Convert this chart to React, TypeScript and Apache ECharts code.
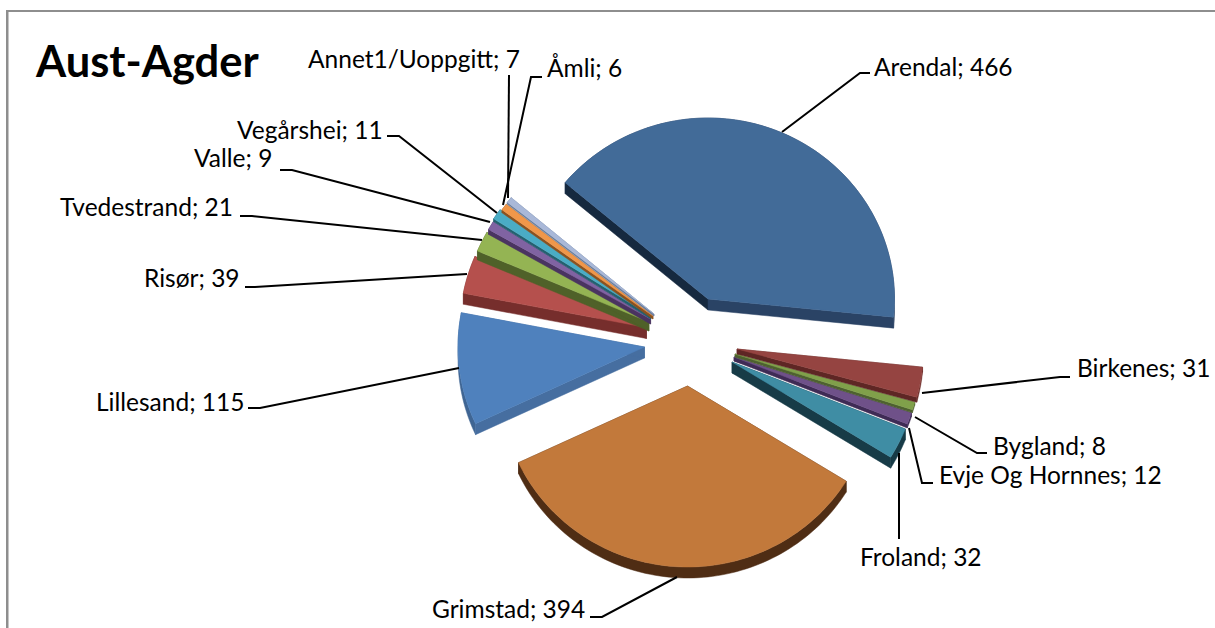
import React, { useEffect, useRef } from "react";
import * as echarts from "echarts";

const categories = ["Arendal", "Birkenes", "Bygland", "Evje Og Hornnes", "Froland", "Grimstad", "Lillesand", "Risør", "Tvedestrand", "Valle", "Vegårshei", "Annet1/Uoppgitt", "Åmli"];
const values = [466, 31, 8, 12, 32, 394, 115, 39, 21, 9, 11, 7, 6];
const chartTitle = "Aust-Agder";

// Layout of the exploded slices (centre of each slice after explosion)
const apexX = [708, 737, 735, 734, 732, 687.5, 644.5, 646.5, 649, 650.6, 651, 653, 654];
const apexY = [299, 349, 354, 357, 362, 386, 347, 327.5, 322, 319, 316, 316, 314];
const drawOrder = [4, 3, 2, 1, 5, 6, 7, 8, 9, 10, 11, 12, 0];
const firstAngle = -50;
const radiusX = 186.5;
const radiusY = 181;
const depths = [11, 5, 3, 4, 11, 11, 11, 11, 9, 5, 3, 3, 2];

const topColors = ["#426B98", "#954441", "#80A04A", "#6F5189", "#3F8DA4", "#C2793B", "#4F81BD", "#B5504D", "#94B453", "#8063A2", "#4AACC5", "#F0974A", "#A9B8D8"];
const startSide = ["#16293F", "#5E2624", "#4E6130", "#3F2B55", "#173B47", "#4F2D14", "#466EA0", "#762E2C", "#4F6129", "#4A3461", "#24606F", "#8B5220", "#6C7F9C"];
const endSide = ["#2A4365", "#5E2624", "#4E6130", "#3F2B55", "#173B47", "#4F2D14", "#466EA0", "#762E2C", "#4F6129", "#4A3461", "#24606F", "#8B5220", "#6C7F9C"];
const arcSide = ["#2A4365", "#6E2E2B", "#4E6130", "#3F2B55", "#173B47", "#4F2D14", "#3F6593", "#762E2C", "#4F6129", "#4A3461", "#24606F", "#8B5220", "#6C7F9C"];

// Label anchors: left x, middle y
const labelX = [874, 1077, 993, 939, 860, 432, 96, 144, 60, 194, 237, 308, 547];
const labelY = [66, 367, 445, 474, 556, 608, 401, 277, 206, 157, 129, 58, 67];
// Leader lines
const leaders: number[][][] = [
  [[782, 132], [860, 73], [870, 73]],
  [[922, 393], [1060, 377], [1070, 377]],
  [[915, 417], [977, 453], [987, 453]],
  [[909, 428], [922, 483], [933, 483]],
  [[899, 453], [899, 539]],
  [[677, 577], [602, 617], [590, 617]],
  [[459, 368], [260, 408], [248, 408]],
  [[467, 274], [255, 287], [245, 287]],
  [[482, 240], [252, 216], [240, 216]],
  [[490, 222], [292, 170], [280, 170]],
  [[497, 213], [399, 136], [387, 136]],
  [[508, 198], [509, 75]],
  [[503, 205], [531, 77], [542, 77]],
];

const total = values.reduce((a, b) => a + b, 0);
const startAngles: number[] = [];
values.reduce((acc, v, i) => {
  startAngles[i] = acc;
  return acc + (v / total) * 360;
}, firstAngle);

function point(i: number, deg: number, dy = 0): number[] {
  const r = (deg * Math.PI) / 180;
  return [apexX[i] + radiusX * Math.sin(r), apexY[i] - radiusY * Math.cos(r) + dy];
}

function arcPoints(i: number, dy = 0): number[][] {
  const a0 = startAngles[i];
  const sweep = (values[i] / total) * 360;
  const n = Math.max(2, Math.ceil(sweep / 1.5));
  const pts: number[][] = [];
  for (let k = 0; k <= n; k++) pts.push(point(i, a0 + (sweep * k) / n, dy));
  return pts;
}

function poly(points: number[][], fill: string) {
  return { type: "polygon", shape: { points }, style: { fill, stroke: fill, lineWidth: 0.5 } };
}

function renderSlice(_params: any, api: any) {
  const i = api.value(0) as number;
  const depth = depths[i];
  const arc = arcPoints(i);
  const low = arcPoints(i, depth);
  const c = [apexX[i], apexY[i]];
  const cLow = [apexX[i], apexY[i] + depth];
  const first = arc[0];
  const last = arc[arc.length - 1];
  return {
    type: "group",
    children: [
      poly([...arc, ...low.slice().reverse()], arcSide[i]),
      poly([c, first, low[0], cLow], startSide[i]),
      poly([c, last, low[low.length - 1], cLow], endSide[i]),
      poly([c, ...arc], topColors[i]),
    ],
  };
}

function renderLabel(_params: any, api: any) {
  const i = api.value(0) as number;
  return {
    type: "group",
    children: [
      {
        type: "polyline",
        shape: { points: leaders[i] },
        style: { stroke: "#000000", lineWidth: 2, fill: "none" },
      },
      {
        type: "text",
        style: {
          x: labelX[i],
          y: labelY[i],
          text: `${categories[i]}; ${values[i]}`,
          fill: "#000000",
          fontFamily: "Lato",
          fontSize: 24.5,
          textAlign: "left",
          textVerticalAlign: "middle",
        },
      },
    ],
  };
}

export default function App() {
  const ref = useRef<HTMLDivElement>(null);
  useEffect(() => {
    document.body.style.margin = "0";
    const chart = echarts.init(ref.current!, undefined, { renderer: "svg" });
    chart.setOption({
      animation: false,
      backgroundColor: "#ffffff",
      title: {
        text: chartTitle,
        left: 31,
        top: 33,
        textStyle: { fontFamily: "Lato", fontWeight: "bold", fontSize: 43.5, color: "#000000" },
      },
      graphic: [
        { type: "rect", shape: { x: 6, y: 10, width: 1209, height: 2 }, style: { fill: "#8E8E8E" } },
        { type: "rect", shape: { x: 6, y: 10, width: 2.5, height: 618 }, style: { fill: "#8E8E8E" } },
      ],
      series: [
        {
          type: "custom",
          coordinateSystem: "none",
          renderItem: renderSlice,
          data: drawOrder.map((i) => [i, values[i]]),
          silent: true,
          z: 2,
        },
        {
          type: "custom",
          coordinateSystem: "none",
          renderItem: renderLabel,
          data: categories.map((_c, i) => [i, values[i]]),
          silent: true,
          z: 3,
        },
      ],
    });
    return () => chart.dispose();
  }, []);
  return <div ref={ref} style={{ width: 1215, height: 628 }} />;
}
